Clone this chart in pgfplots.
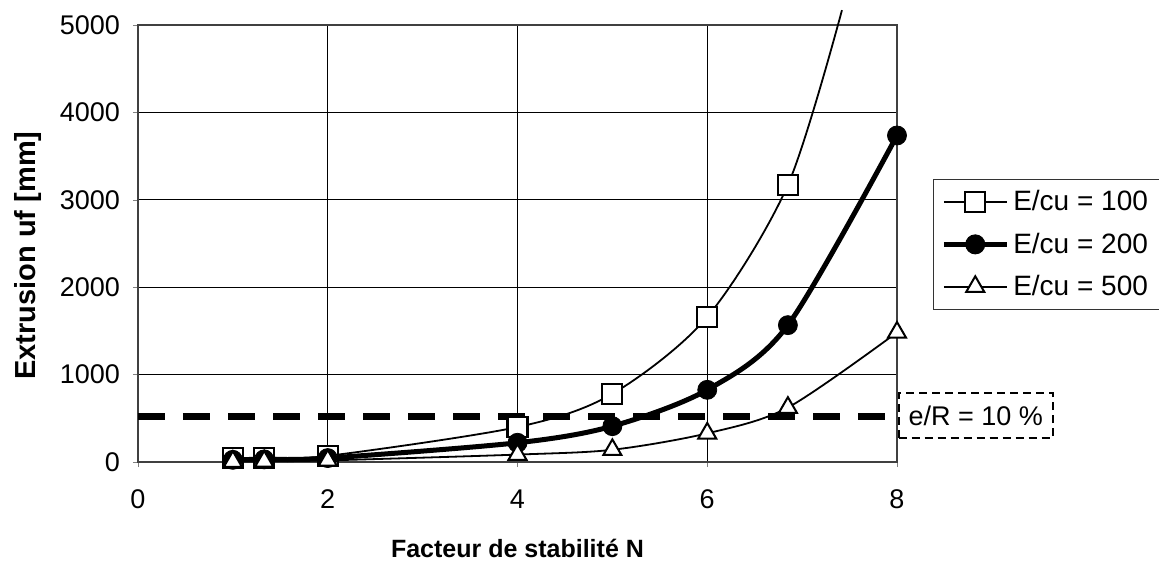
\documentclass[border=0pt]{standalone}
\usepackage{pgfplots}
\pgfplotsset{compat=1.18}
\usepackage{fontspec}
\setmainfont{Liberation Sans}

\begin{document}
\begin{tikzpicture}
\path[use as bounding box] (-69pt,-55.5pt) rectangle (510.5pt,231pt);
\begin{axis}[
    scale only axis,
    width=379.5pt, height=218.5pt,
    xmin=0, xmax=8, ymin=0, ymax=5000,
    xtick={0,2,...,8}, ytick={0,1000,...,5000},
    /pgf/number format/assume math mode=true,
    scaled y ticks=false,
    yticklabel style={/pgf/number format/1000 sep={}, xshift=-3pt},
    xticklabel style={yshift=-8pt},
    tick label style={font=\fontsize{13.5}{16}\selectfont},
    tick align=outside, major tick length=2.5pt,
    xtick pos=bottom, ytick pos=left,
    grid=major,
    major grid style={black, line width=0.5pt},
    axis line style={black!75, line width=1pt},
    clip=false,
    xlabel={\textbf{Facteur de stabilité N}},
    ylabel={\textbf{Extrusion uf [mm]}},
    xlabel style={font=\fontsize{12.5}{15}\selectfont,
        at={(axis description cs:0.5,0)}, anchor=center, yshift=-43pt},
    ylabel style={font=\fontsize{14.5}{17}\selectfont,
        at={(axis description cs:0,0.5)}, anchor=center, rotate=0, yshift=55pt, xshift=-6pt},
    legend style={at={(axis description cs:1.047,0.648)}, anchor=north west,
        font=\fontsize{14}{16}\selectfont, draw=black!80, line width=0.6pt,
        row sep=5.5pt, inner xsep=4pt, inner ysep=3.5pt, cells={anchor=west}},
    legend image code/.code={
        \draw[mark repeat=2, mark phase=2, #1] plot coordinates {(0pt,0pt) (15.75pt,0pt) (31.5pt,0pt)};
    },
]
% seuil e/R = 10 %
\addplot[black, line width=3.6pt, dash pattern=on 13.5pt off 9pt, forget plot]
    coordinates {(0,517) (8,517)};

% courbes
\addplot[black, line width=0.9pt, smooth, forget plot] coordinates {
    (1,45) (1.33,50) (2,70) (4,400) (5,780) (6,1660) (6.85,3170) (7.42,5170)
};
\addplot[black, line width=2.5pt, smooth, forget plot] coordinates {
    (1,25) (1.33,30) (2,45) (4,220) (5,410) (6,826) (6.85,1566) (8,3736)
};
\addplot[black, line width=0.9pt, smooth, forget plot] coordinates {
    (1,5) (1.33,8) (2,18) (4,85) (5,140) (6,328) (6.85,623) (8,1483)
};

% marqueurs
\addplot[only marks, mark=square*, mark size=5pt,
    mark options={draw=black, fill=white, line width=1.1pt}, forget plot] coordinates {
    (1,45) (1.33,50) (2,70) (4,400) (5,780) (6,1660) (6.85,3170)
};
\addplot[only marks, mark=*, mark size=4.75pt,
    mark options={draw=black, fill=black}, forget plot] coordinates {
    (1,25) (1.33,30) (2,45) (4,220) (5,410) (6,826) (6.85,1566) (8,3736)
};
\addplot[only marks, mark=triangle*, mark size=5.2pt,
    mark options={draw=black, fill=white, line width=1pt}, forget plot] coordinates {
    (1,5) (1.33,8) (2,18) (4,85) (5,140) (6,328) (6.85,623) (8,1483)
};

\addlegendimage{black, line width=0.9pt, mark=square*, mark size=5pt,
    mark options={fill=white, line width=1.1pt}}
\addlegendentry{E/cu = 100}
\addlegendimage{black, line width=2.5pt, mark=*, mark size=4.75pt,
    mark options={fill=black, line width=0.5pt}}
\addlegendentry{E/cu = 200}
\addlegendimage{black, line width=0.9pt, mark=triangle*, mark size=5.2pt,
    mark options={fill=white, line width=1pt}}
\addlegendentry{E/cu = 500}

\node[draw=black, line width=1pt, dash pattern=on 4pt off 2.5pt,
      minimum width=77pt, minimum height=22.5pt, inner sep=1pt,
      font=\fontsize{13.5}{15}\selectfont]
    at (axis cs:8.83,532) {e/R = 10 \%};
\end{axis}
\end{tikzpicture}
\end{document}
